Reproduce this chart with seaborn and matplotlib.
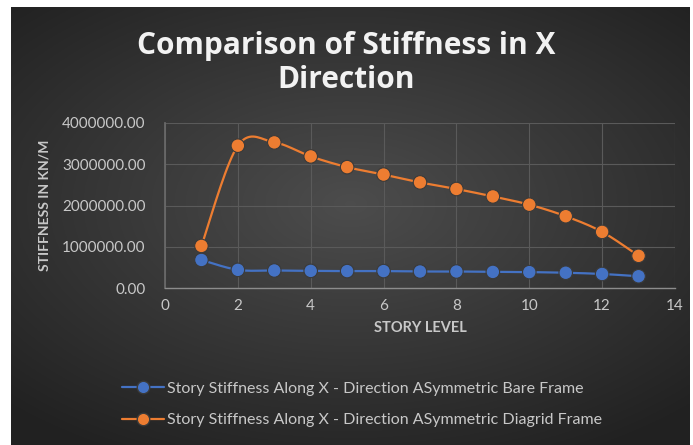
import matplotlib
matplotlib.use("Agg")
import matplotlib.pyplot as plt
import numpy as np
import pandas as pd
import seaborn as sns
from matplotlib.lines import Line2D

story_level = [1, 2, 3, 4, 5, 6, 7, 8, 9, 10, 11, 12, 13]
bare_frame = [680000, 440000, 425000, 415000, 410000, 410000, 400000, 400000, 390000, 385000, 370000, 340000, 285000]
diagrid_frame = [1020000, 3450000, 3530000, 3190000, 2930000, 2750000, 2560000, 2400000, 2220000, 2020000, 1740000, 1360000, 780000]
series_names = [
    "Story Stiffness Along X - Direction ASymmetric Bare Frame",
    "Story Stiffness Along X - Direction ASymmetric Diagrid Frame",
]
y_ticks = [0, 1000000, 2000000, 3000000, 4000000]
x_ticks = [0, 2, 4, 6, 8, 10, 12, 14]

BLUE = "#4472C4"
ORANGE = "#ED7D31"
TEXT = "#c8c8c8"
GRID = "#5a5a5a"


def smooth_curve(x, y, steps=20):
    # Excel-like smoothed line: cubic bezier with catmull-rom control points
    x = np.asarray(x, float)
    y = np.asarray(y, float)
    pts = np.column_stack([x, y])
    out = []
    for i in range(len(pts) - 1):
        p0 = pts[max(i - 1, 0)]
        p1 = pts[i]
        p2 = pts[i + 1]
        p3 = pts[min(i + 2, len(pts) - 1)]
        c1 = p1 + (p2 - p0) / 6
        c2 = p2 - (p3 - p1) / 6
        t = np.linspace(0, 1, steps)[:, None]
        seg = ((1 - t) ** 3) * p1 + 3 * ((1 - t) ** 2) * t * c1 + 3 * (1 - t) * t**2 * c2 + t**3 * p2
        out.append(seg if i == 0 else seg[1:])
    arr = np.vstack(out)
    return arr[:, 0], arr[:, 1]


def main() -> None:
    sns.set_theme(style="dark")
    plt.rcParams["font.family"] = ["Lato", "DejaVu Sans"]

    W, H = 693, 445
    fig = plt.figure(figsize=(W / 100, H / 100), dpi=100, facecolor="white")

    # dark radial gradient background
    bg = fig.add_axes([11 / W, 0, (690 - 11) / W, (H - 7) / H])
    yy, xx = np.mgrid[-1:1:300j, -1:1:450j]
    r = np.sqrt((xx * 0.9) ** 2 + ((yy + 0.1) * 1.0) ** 2)
    shade = 0.30 - 0.13 * np.clip(r, 0, 1.3)
    bg.imshow(np.dstack([shade, shade, shade]), aspect="auto", extent=[0, 1, 0, 1])
    bg.set_axis_off()

    ax = fig.add_axes([165 / W, 1 - 288 / H, (675 - 165) / W, (288 - 123) / H])
    ax.set_facecolor("none")

    df = pd.DataFrame(
        {
            "story": story_level * 2,
            "stiffness": bare_frame + diagrid_frame,
            "series": [series_names[0]] * len(story_level) + [series_names[1]] * len(story_level),
        }
    )

    for vals, color in [(bare_frame, BLUE), (diagrid_frame, ORANGE)]:
        sx, sy = smooth_curve(story_level, vals)
        ax.plot(sx, sy, color=color, lw=1.6, zorder=3)

    sns.scatterplot(
        data=df,
        x="story",
        y="stiffness",
        hue="series",
        palette=[BLUE, ORANGE],
        s=95,
        edgecolor="#3a3a3a",
        linewidth=0.8,
        legend=False,
        zorder=4,
        ax=ax,
    )

    ax.set_xlim(0, 14)
    ax.set_ylim(0, 4000000)
    ax.set_xticks(x_ticks)
    ax.set_yticks(y_ticks)
    ax.set_yticklabels([f"{v:.2f}" for v in y_ticks])
    ax.grid(True, color=GRID, lw=0.8)
    for side in ["top", "right"]:
        ax.spines[side].set_visible(False)
    ax.spines["bottom"].set_color("#8c8c8c")
    ax.spines["left"].set_color("#6a6a6a")
    ax.spines["bottom"].set_linewidth(1.0)
    ax.tick_params(colors=TEXT, labelsize=11, length=0, pad=8)
    ax.tick_params(axis="y", pad=14)
    ax.set_xlabel("STORY LEVEL", color=TEXT, fontsize=10.5, fontweight="bold", labelpad=6)
    ax.set_ylabel("STIFFNESS IN KN/M", color=TEXT, fontsize=10, fontweight="bold", labelpad=8)

    fig.text(
        0.5, 1 - 63 / H, "Comparison of Stiffness in X\nDirection",
        ha="center", va="center", color="#f2f2f2", fontsize=21.5, fontweight="bold",
        family=["Open Sans", "DejaVu Sans"], linespacing=1.2,
    )

    handles = [
        Line2D([], [], color=c, marker="o", markersize=9, markeredgecolor="#3a3a3a", lw=1.6)
        for c in [BLUE, ORANGE]
    ]
    fig.legend(
        handles,
        series_names,
        loc="upper left",
        bbox_to_anchor=(108 / W, 1 - 367 / H),
        frameon=False,
        labelcolor=TEXT,
        fontsize=11.5,
        handlelength=2.6,
        handletextpad=0.2,
        labelspacing=1.1,
    )

    fig.savefig("out.png", dpi=100, facecolor="white")


if __name__ == "__main__":
    main()
